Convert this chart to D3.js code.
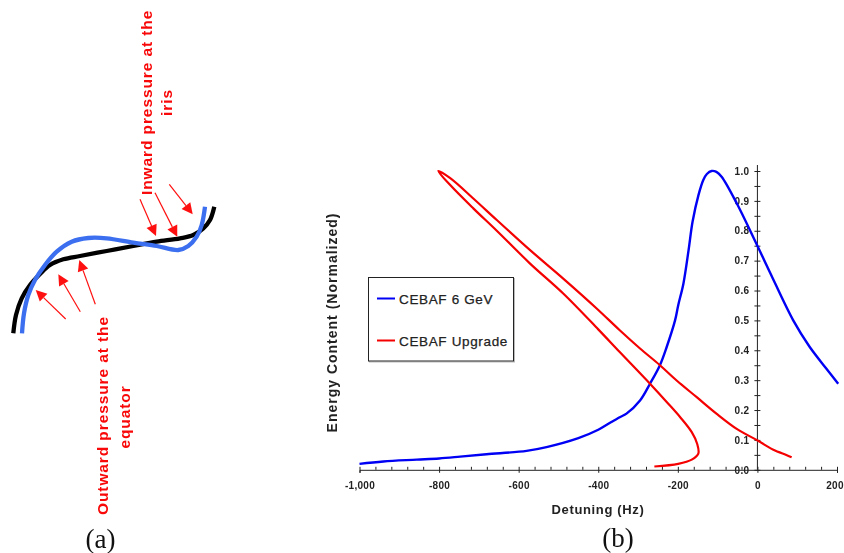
<!DOCTYPE html>
<html><head><meta charset="utf-8">
<script src="https://cdn.jsdelivr.net/npm/d3@7/dist/d3.min.js"></script>
<style>
html,body{margin:0;padding:0;background:#fff;}
svg{display:block;filter:blur(0.4px);}
text{font-family:"Liberation Sans",Arial,sans-serif;}
</style></head><body>
<svg id="c" width="844" height="553"></svg>
<script>
// Panel (b) data
const blueHz=[-1000,-940,-856,-800,-747,-681,-580,-530,-450,-400,-367,-346,-329,-295,-270,-245,-228,-207,-199,-186,-173,-163,-148,-136,-127,-115,-103,-90,-52,-1,31,90,131.5,173,203];
const blueE=[0.020,0.028,0.034,0.038,0.044,0.052,0.0635,0.076,0.106,0.134,0.16,0.176,0.188,0.232,0.288,0.350,0.411,0.500,0.551,0.623,0.735,0.83,0.92,0.97,0.99,1.0,0.997,0.981,0.892,0.752,0.662,0.50,0.411,0.339,0.288];
const redHz=[-259,-199,-165,-148.5,-151.5,-165,-194,-228,-270,-346,-400,-488,-572,-655,-714,-772,-802,-772,-714,-655,-572,-488,-404,-346,-295,-245,-203,-152.5,-103,-52,0.5,40,74,86];
const redE=[0.011,0.020,0.034,0.054,0.087,0.126,0.176,0.227,0.288,0.394,0.470,0.590,0.691,0.800,0.875,0.953,1.0,0.976,0.908,0.836,0.736,0.640,0.540,0.467,0.406,0.350,0.299,0.243,0.188,0.137,0.098,0.067,0.049,0.042];
const xMajor=[-1000,-800,-600,-400,-200,0,200];
const xMinor=[-960,-920,-880,-840,-760,-720,-680,-640,-560,-520,-480,-440,-360,-320,-280,-240,-160,-120,-80,-40,40,80,120,160];
const yMajor=[0,0.1,0.2,0.3,0.4,0.5,0.6,0.7,0.8,0.9,1.0];
const yMinor=[0.05,0.15,0.25,0.35,0.45,0.55,0.65,0.75,0.85,0.95];
const legendNames=["CEBAF 6 GeV","CEBAF Upgrade"];
const legendColors=["#0000f5","#f50000"];
// Panel (a) data
const blackX=[13.3,16,21.7,30,40,50,63.3,80,106.7,133.3,156.7,180,193.3,203.3,210,214.3];
const blackY=[333.3,315,298.3,285,274,265,259.3,256,251,246,241.7,238.3,235,228.3,220,206.7];
const lightX=[22,24,28.3,35,45,56.7,71.7,88.3,106.7,133.3,156.7,178.3,188.3,196.7,201.7,205];
const lightY=[333.3,313.3,295,280,265,251.7,241.7,238,238.3,242.7,246,250,246,236.7,225,206.7];
const arrowFromX=[65.7,80.3,95.3,140,155,169.3];
const arrowFromY=[319,311.7,304.3,199.3,192.7,184.3];
const arrowToX=[35.7,58.3,79.3,156,177.3,192.7];
const arrowToY=[290,274.3,260,236,236.7,214.3];

const svg=d3.select("#c");
const x=d3.scaleLinear().domain([-1000,200]).range([359.5,837]);
const y=d3.scaleLinear().domain([0,1]).range([469.8,171]);
const ink="#222";

// x axis
const gx=svg.append("g").attr("transform","translate(0,"+y(0)+")");
gx.call(d3.axisBottom(x).tickValues(xMajor).tickSize(3).tickPadding(9).tickFormat(d=>d3.format(",")(d).replace("\u2212","-")));
gx.selectAll(".tick line").attr("y1",-3).attr("y2",3);
gx.selectAll(".tick text").filter(d=>d===200).attr("dx",-2.5);
const gxm=svg.append("g").attr("transform","translate(0,"+y(0)+")");
gxm.call(d3.axisTop(x).tickValues(xMinor).tickSize(3).tickFormat(""));
gxm.select(".domain").remove();
// y axis
const gy=svg.append("g").attr("transform","translate("+x(0)+",0)");
gy.call(d3.axisLeft(y).tickValues(yMajor).tickSize(3).tickPadding(5).tickFormat(d3.format(".1f")));
gy.selectAll(".tick line").attr("x2",3).attr("x1",-3);
gy.select(".domain").attr("d","M0,"+y(0)+"V165");
const gym=svg.append("g").attr("transform","translate("+x(0)+",0)");
gym.call(d3.axisRight(y).tickValues(yMinor).tickSize(3).tickFormat(""));
gym.select(".domain").remove();
gym.selectAll(".tick line").attr("x1",-3).attr("x2",3);
svg.selectAll("g .domain, g .tick line").attr("stroke",ink).attr("stroke-width",1);
svg.selectAll("g .tick text").attr("font-size",10).attr("font-weight","bold").attr("fill",ink)
  .attr("font-family",'"Liberation Sans"').style("letter-spacing","0.3px");

// curves
const curve=d3.line().x(d=>x(d[0])).y(d=>y(d[1])).curve(d3.curveCatmullRom.alpha(0.5));
svg.append("path").attr("d",curve(d3.zip(blueHz,blueE))).attr("fill","none").attr("stroke",legendColors[0]).attr("stroke-width",2.4);
svg.append("path").attr("d",curve(d3.zip(redHz,redE))).attr("fill","none").attr("stroke",legendColors[1]).attr("stroke-width",2.2);

// axis titles
svg.append("text").attr("x",598).attr("y",514).attr("text-anchor","middle").attr("font-size",13).attr("font-weight","bold").attr("fill",ink).style("letter-spacing","0.65px").text("Detuning (Hz)");
svg.append("text").attr("transform","translate(337,322.5) rotate(-90)").attr("text-anchor","middle").attr("font-size",14).attr("font-weight","bold").attr("fill",ink).style("letter-spacing","1px").text("Energy Content (Normalized)");

// legend
svg.append("rect").attr("x",369.5).attr("y",278.5).attr("width",145).attr("height",83.5).attr("fill","none").attr("stroke","#bbb").attr("stroke-width",1);
svg.append("rect").attr("x",368.5).attr("y",277.5).attr("width",145).attr("height",83.5).attr("fill","#fff").attr("stroke",ink).attr("stroke-width",1);
const ly=[298.5,340.5];
legendNames.forEach((n,i)=>{
  svg.append("line").attr("x1",377).attr("x2",395).attr("y1",ly[i]).attr("y2",ly[i]).attr("stroke",legendColors[i]).attr("stroke-width",2);
  svg.append("text").attr("x",399).attr("y",ly[i]+5).attr("font-size",13.5).attr("fill",ink).attr("stroke",ink).attr("stroke-width",0.25).style("letter-spacing","0.65px").text(n);
});

// panel (a) curves
const free=d3.line().curve(d3.curveCatmullRom.alpha(0.5));
svg.append("path").attr("d",free(d3.zip(blackX,blackY))).attr("fill","none").attr("stroke","#000").attr("stroke-width",4.3);
svg.append("path").attr("d",free(d3.zip(lightX,lightY))).attr("fill","none").attr("stroke","#3b6ff0").attr("stroke-width",4.3);

// arrows
const red="#ff1010";
arrowFromX.forEach((_,i)=>{
  const x0=arrowFromX[i],y0=arrowFromY[i],x1=arrowToX[i],y1=arrowToY[i];
  const a=Math.atan2(y1-y0,x1-x0),L=11,W=5.5;
  const bx=x1-L*Math.cos(a),by=y1-L*Math.sin(a);
  svg.append("line").attr("x1",x0).attr("y1",y0).attr("x2",bx).attr("y2",by).attr("stroke",red).attr("stroke-width",1.2);
  svg.append("path").attr("d",d3.line()([[x1,y1],[bx-W*Math.sin(a),by+W*Math.cos(a)],[bx+W*Math.sin(a),by-W*Math.cos(a)]])+"Z").attr("fill",red);
});

// annotations
function vtext(xp,yp,t,anchor){
  svg.append("text").attr("transform","translate("+xp+","+yp+") rotate(-90)").attr("text-anchor",anchor).attr("font-size",15.5).attr("font-weight","bold").attr("fill","#f80808").style("letter-spacing","0.9px").text(t);
}
vtext(152,195,"Inward pressure at the","start");
vtext(172,102.5,"iris","middle");
vtext(108.3,515,"Outward pressure at the","start");
vtext(130,417,"equator","middle");
svg.append("text").attr("x",100.5).attr("y",548).attr("text-anchor","middle").attr("font-size",27).style("font-family",'"Liberation Serif"').attr("fill","#111").text("(a)");
svg.append("text").attr("x",618).attr("y",547).attr("text-anchor","middle").attr("font-size",27).style("font-family",'"Liberation Serif"').attr("fill","#111").text("(b)");
</script>
</body></html>
